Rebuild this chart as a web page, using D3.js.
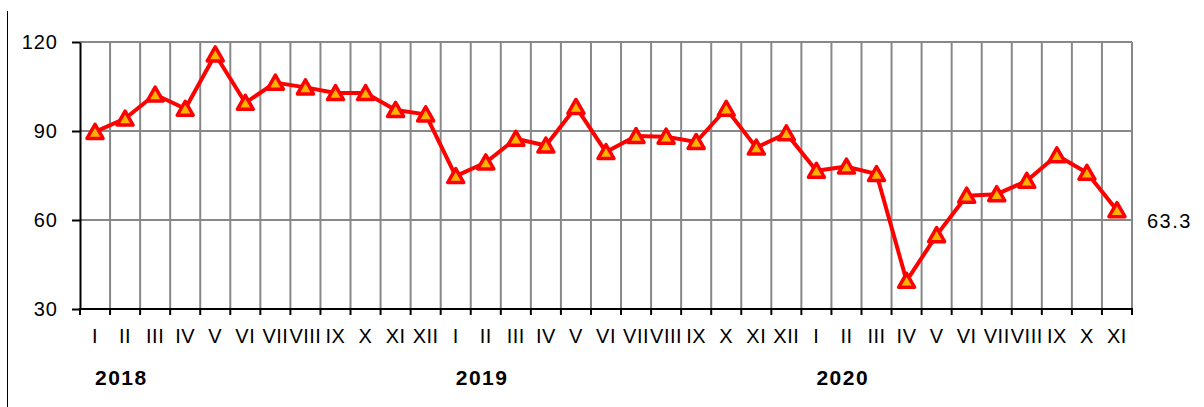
<!DOCTYPE html>
<html>
    <head>
        <meta charset="utf-8">
        <style>
            body { margin: 0; background: #fff; }
            svg { display: block; font-family: 'Liberation Sans', Arial, sans-serif; }
        </style>
    </head>
    <body>
        <svg width="1204" height="407"></svg>

    <script src="https://d3js.org/d3.v7.min.js"></script>
    <script>
        // data
        let years = ["2018", "2019", "2020"]
        let months = ["I", "II", "III", "IV", "V", "VI", "VII", "VIII", "IX", "X", "XI", "XII"]
        let values2018 = [89.7, 94.2, 102.3, 97.5, 115.8, 99.5, 106.3, 104.7, 102.8, 102.8, 97.1, 95.6]
        let values2019 = [74.8, 79.4, 87.4, 85.1, 98.1, 82.9, 88.3, 88.1, 86.3, 97.5, 84.4, 89.2]
        let values2020 = [76.6, 78.0, 75.5, 39.5, 54.9, 68.2, 68.7, 73.2, 81.8, 75.9, 63.3]
        let yTicks = [30, 60, 90, 120]
        let lastLabel = "63.3"

        let data = []
        ;[values2018, values2019, values2020].forEach((vals, yi) => {
            vals.forEach((v, mi) => {
                data.push({ key: years[yi] + "-" + mi, year: years[yi], month: months[mi], mi: mi, value: v })
            })
        })

        let svg = d3.select("svg")
        let margin = { top: 42, right: 72, bottom: 98, left: 80 }
        let width = 1204, height = 407

        let x = d3.scaleBand()
            .domain(data.map(d => d.key))
            .range([margin.left, width - margin.right])
            .padding(0)

        let y = d3.scaleLinear()
            .domain([30, 120])
            .range([height - margin.bottom, margin.top])

        // outer left frame line
        svg.append("line")
            .attr("x1", 7.5).attr("x2", 7.5)
            .attr("y1", 11).attr("y2", height)
            .style("stroke", "#000").style("stroke-width", 1)

        // horizontal grid
        svg.append("g")
            .selectAll("line")
            .data(yTicks.filter(t => t > 30))
            .join("line")
            .attr("x1", margin.left)
            .attr("x2", width - margin.right)
            .attr("y1", d => y(d))
            .attr("y2", d => y(d))
            .style("stroke", "#888")
            .style("stroke-width", 2)

        // vertical grid at band boundaries
        let bounds = data.map(d => x(d.key)).slice(1).concat([x.range()[1]])
        svg.append("g")
            .selectAll("line")
            .data(bounds)
            .join("line")
            .attr("x1", d => d).attr("x2", d => d)
            .attr("y1", margin.top)
            .attr("y2", y(30))
            .style("stroke", "#888")
            .style("stroke-width", 2)

        // y axis
        let yAxis = svg.append("g")
            .attr("transform", `translate(${margin.left},0)`)
            .call(d3.axisLeft(y).tickValues(yTicks).tickSize(8).tickPadding(14).tickSizeOuter(0))
        yAxis.select(".domain").style("stroke", "#000").style("stroke-width", 2)
        yAxis.selectAll(".tick line").style("stroke", "#000").style("stroke-width", 2)
        yAxis.selectAll(".tick text")
            .style("font-size", "20px")
            .style("letter-spacing", "1px")
            .attr("fill", "#000")
            .attr("font-family", "'Liberation Sans', Arial, sans-serif")

        // x axis: ticks at boundaries, labels at band centres
        let xAxis = svg.append("g")
            .attr("transform", `translate(0,${y(30)})`)
        xAxis.append("line")
            .attr("x1", margin.left - 1).attr("x2", width - margin.right + 1)
            .style("stroke", "#000").style("stroke-width", 2)
        xAxis.selectAll(".xtick")
            .data([x.range()[0]].concat(bounds))
            .join("line")
            .attr("class", "xtick")
            .attr("x1", d => d).attr("x2", d => d)
            .attr("y1", 0).attr("y2", 6)
            .style("stroke", "#000").style("stroke-width", 2)
        xAxis.selectAll(".xlab")
            .data(data)
            .join("text")
            .attr("class", "xlab")
            .attr("x", d => x(d.key) + x.bandwidth() / 2)
            .attr("y", 34)
            .attr("text-anchor", "middle")
            .style("font-size", "20px")
            .style("letter-spacing", "0.5px")
            .text(d => d.month)

        // year labels
        svg.selectAll(".year")
            .data(years)
            .join("text")
            .attr("class", "year")
            .attr("x", d => x(d + "-0") + x.bandwidth() / 2)
            .attr("y", 385)
            .style("font-size", "21px")
            .style("font-weight", "bold")
            .style("letter-spacing", "1.5px")
            .text(d => d)

        // line
        let line = d3.line()
            .x(d => x(d.key) + x.bandwidth() / 2)
            .y(d => y(d.value))

        svg.append("path")
            .datum(data)
            .attr("d", line)
            .style("fill", "none")
            .style("stroke", "#ff0000")
            .style("stroke-width", 4)
            .style("stroke-linejoin", "round")

        // triangle markers
        svg.append("g")
            .selectAll("path")
            .data(data)
            .join("path")
            .attr("transform", d => `translate(${x(d.key) + x.bandwidth() / 2},${y(d.value)})`)
            .attr("d", "M0,-7.5L8,6.5L-8,6.5Z")
            .style("fill", "#ffb400")
            .style("stroke", "#ff0000")
            .style("stroke-width", 3.5)
            .style("stroke-linejoin", "round")

        // last value label
        let last = data[data.length - 1]
        svg.append("text")
            .attr("x", x(last.key) + x.bandwidth() / 2 + 30)
            .attr("y", y(last.value) + 18)
            .style("font-size", "20px")
            .style("letter-spacing", "1.5px")
            .text(lastLabel)
    </script>
    </body>
</html>
